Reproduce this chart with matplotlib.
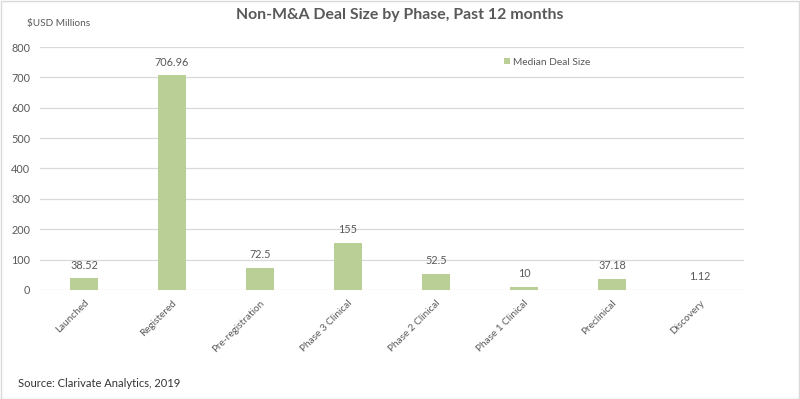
import matplotlib
matplotlib.use("Agg")
import matplotlib.pyplot as plt
from matplotlib.patches import Rectangle

categories = ["Launched", "Registered", "Pre-registration", "Phase 3 Clinical",
              "Phase 2 Clinical", "Phase 1 Clinical", "Preclinical", "Discovery"]
values = [38.52, 706.96, 72.5, 155, 52.5, 10, 37.18, 1.12]
value_labels = ["38.52", "706.96", "72.5", "155", "52.5", "10", "37.18", "1.12"]
yticks = [0, 100, 200, 300, 400, 500, 600, 700, 800]

plt.rcParams['font.family'] = ['Lato', 'DejaVu Sans']
txt = "#595959"
bar_color = "#b9cf96"

fig = plt.figure(figsize=(8, 3.99), dpi=100)
ax = fig.add_axes([0.05, 0.2732, 0.88, 0.609])

x = list(range(len(categories)))
bars = ax.bar(x, values, width=0.32, color=bar_color, label="Median Deal Size", zorder=3)
for xi, v, lab in zip(x, values, value_labels):
    ax.annotate(lab, (xi, v), xytext=(0, 5.5), textcoords="offset points",
                ha="center", va="bottom", fontsize=7.8, color=txt)

ax.set_xlim(-0.5, len(categories) - 0.5)
ax.set_ylim(0, 800)
ax.set_yticks(yticks)
ax.set_yticklabels([str(t) for t in yticks], fontsize=7.8, color=txt)
ax.set_xticks(x)
ax.set_xticklabels(categories, rotation=45, ha="right", rotation_mode="anchor",
                   fontsize=7.2, color=txt)
ax.tick_params(axis="both", length=0, pad=7)
ax.tick_params(axis="x", pad=6)
ax.grid(axis="y", color="#d9d9d9", linewidth=0.9, zorder=0)
for s in ax.spines.values():
    s.set_visible(False)

leg = ax.legend(loc="center", bbox_to_anchor=(0.72, 0.938), frameon=False, fontsize=7.3,
                handlelength=0.6, handleheight=0.6, handletextpad=0.3, labelcolor=txt)

fig.text(0.5, 0.962, "Non-M&A Deal Size by Phase, Past 12 months", ha="center", va="center",
         fontsize=11.4, fontweight="bold", color=txt)
fig.text(0.034, 0.942, "$USD Millions", ha="left", va="center", fontsize=7.2, color=txt)
fig.text(0.023, 0.04, "Source: Clarivate Analytics, 2019", ha="left", va="center",
         fontsize=8, color="#333333")

fig.patches.append(Rectangle((0.001, 0.001), 0.998, 0.997, transform=fig.transFigure,
                             fill=False, edgecolor="#d9d9d9", linewidth=1))

fig.savefig("out.png", dpi=100)
